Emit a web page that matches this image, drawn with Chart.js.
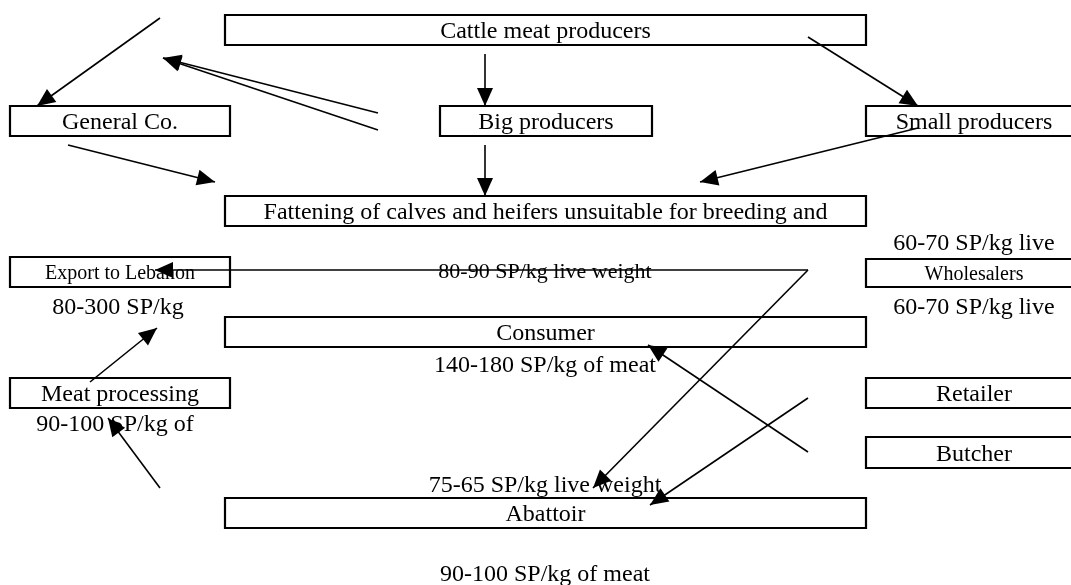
<!DOCTYPE html>
<html>
<head>
<meta charset="utf-8">
<script src="https://cdn.jsdelivr.net/npm/chart.js@4"></script>
<style>
  html, body { margin: 0; padding: 0; background: #fff; }
  #wrap { width: 1071px; height: 585px; }
</style>
</head>
<body>
<div id="wrap"><canvas id="flow"></canvas></div>
<script>
// --- boxes of the marketing chain (diagram units = 1071 x 585 page) ---
const nodeNames  = ['Cattle meat producers', 'General Co.', 'Big producers', 'Small producers',
                    'Fattening of calves and heifers unsuitable for breeding and',
                    'Export to Lebanon', 'Wholesalers', 'Consumer', 'Meat processing',
                    'Retailer', 'Butcher', 'Abattoir'];
const nodeLeft   = [225, 10, 440, 866, 225, 10, 866, 225, 10, 866, 866, 225];
const nodeRight  = [866, 230, 652, 1085, 866, 230, 1085, 866, 230, 1085, 1085, 866];
const nodeTop    = [15, 106, 106, 106, 196, 257, 259, 317, 378, 378, 437, 498];
const nodeBottom = [45, 136, 136, 136, 226, 287, 287, 347, 408, 408, 468, 528];

// --- price notes ---
const priceText = ['60-70 SP/kg live', '80-300 SP/kg', '80-90 SP/kg live weight', '60-70 SP/kg live',
                   '140-180 SP/kg of meat', '90-100 SP/kg of', '75-65 SP/kg live weight', '90-100 SP/kg of meat'];
const priceX = [974, 118, 545, 974, 545, 115, 545, 545];
const priceY = [242, 306, 270, 306, 364, 423, 484, 573];

// --- arrows: start point -> head point ---
const arrowStart = [[160, 18], [378, 113], [378, 130], [485, 54], [485, 145], [808, 37], [918, 128],
                    [68, 145], [808, 270], [808, 270], [808, 452], [808, 398], [90, 382], [160, 488]];
const arrowEnd   = [[37, 106], [163, 58], [163, 58], [485, 106], [485, 196], [918, 106], [700, 182],
                    [215, 182], [155, 270], [593, 488], [648, 345], [650, 505], [157, 328], [108, 418]];

const smallFont = { 'Export to Lebanon': 20, 'Wholesalers': 20, '80-90 SP/kg live weight': 22 };
const fontFor = (t) => (smallFont[t] || 24) + 'px "Liberation Serif", "Times New Roman", serif';

const datasets = [];
nodeNames.forEach((name, i) => {
    const l = nodeLeft[i], r = nodeRight[i], t = nodeTop[i], b = nodeBottom[i];
    datasets.push({
        label: name,
        data: [{ x: l, y: t }, { x: r, y: t }, { x: r, y: b }, { x: l, y: b }, { x: l, y: t }],
        showLine: true, borderColor: '#000', borderWidth: 2.2,
        borderCapStyle: 'square', borderJoinStyle: 'miter',
        pointRadius: 0, tension: 0, clip: false
    });
});
arrowStart.forEach((s, i) => {
    datasets.push({
        label: 'arrow' + i,
        isArrow: true,
        data: [{ x: s[0], y: s[1] }, { x: arrowEnd[i][0], y: arrowEnd[i][1] }],
        showLine: true, borderColor: '#000', borderWidth: 1.6,
        pointRadius: 0, tension: 0, clip: false
    });
});

// labels under the lines
const textPlugin = {
    id: 'texts',
    beforeDatasetsDraw(chart) {
        const { ctx, scales: { x, y } } = chart;
        ctx.save();
        ctx.fillStyle = '#000';
        ctx.textAlign = 'center';
        ctx.textBaseline = 'middle';
        nodeNames.forEach((name, i) => {
            ctx.font = fontFor(name);
            let cx = (nodeLeft[i] + nodeRight[i]) / 2;
            if (nodeRight[i] > 1071) cx = 974;
            ctx.fillText(name, x.getPixelForValue(cx), y.getPixelForValue((nodeTop[i] + nodeBottom[i]) / 2 + 2));
        });
        priceText.forEach((t, i) => {
            ctx.font = fontFor(t);
            ctx.fillText(t, x.getPixelForValue(priceX[i]), y.getPixelForValue(priceY[i] + 2));
        });
        ctx.restore();
    }
};

// filled heads at the end of each arrow
const headPlugin = {
    id: 'heads',
    afterDatasetsDraw(chart) {
        const ctx = chart.ctx;
        ctx.save();
        ctx.fillStyle = '#000';
        chart.data.datasets.forEach((ds, i) => {
            if (!ds.isArrow) return;
            const pts = chart.getDatasetMeta(i).data;
            const a = pts[0], b = pts[1];
            const ang = Math.atan2(b.y - a.y, b.x - a.x);
            const len = 18, half = 8;
            ctx.beginPath();
            ctx.moveTo(b.x, b.y);
            ctx.lineTo(b.x - len * Math.cos(ang) + half * Math.sin(ang), b.y - len * Math.sin(ang) - half * Math.cos(ang));
            ctx.lineTo(b.x - len * Math.cos(ang) - half * Math.sin(ang), b.y - len * Math.sin(ang) + half * Math.cos(ang));
            ctx.closePath();
            ctx.fill();
        });
        ctx.restore();
    }
};

new Chart(document.getElementById('flow'), {
    type: 'scatter',
    data: { datasets },
    options: {
        responsive: true,
        maintainAspectRatio: false,
        animation: false,
        events: [],
        layout: { padding: 0 },
        plugins: { legend: { display: false }, tooltip: { enabled: false } },
        scales: {
            x: { type: 'linear', min: 0, max: 1071, display: false },
            y: { type: 'linear', min: 0, max: 585, reverse: true, display: false }
        }
    },
    plugins: [textPlugin, headPlugin]
});
</script>
</body>
</html>
